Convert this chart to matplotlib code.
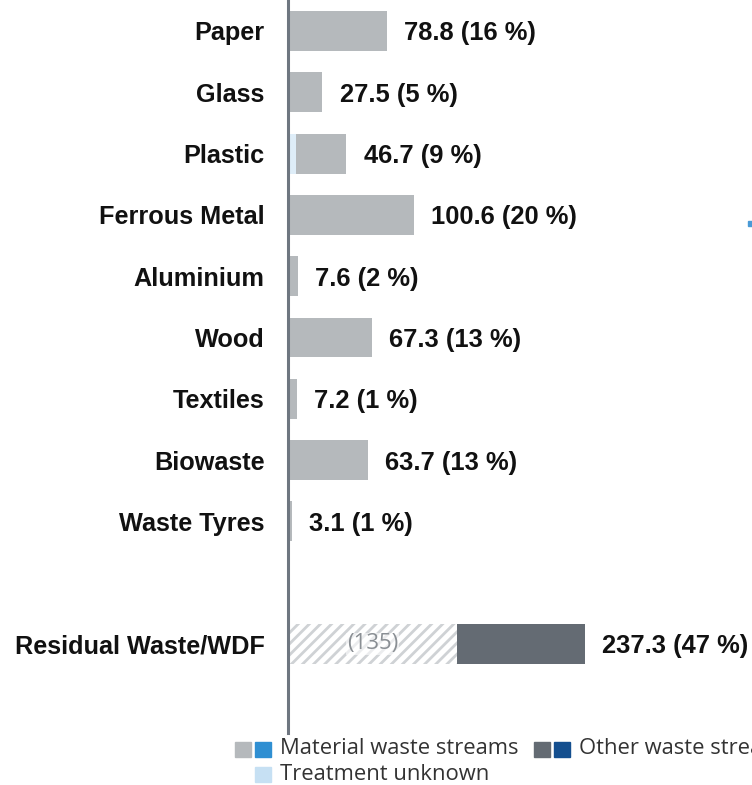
import matplotlib
matplotlib.use("Agg")
import matplotlib.pyplot as plt
from matplotlib.patches import Rectangle
import numpy as np

# Waste streams (kt) and their share of the total
categories = ["Paper", "Glass", "Plastic", "Ferrous Metal", "Aluminium",
              "Wood", "Textiles", "Biowaste", "Waste Tyres", "Residual Waste/WDF"]
positions = [0, 1, 2, 3, 4, 5, 6, 7, 8, 10]
treatment_unknown = [0, 0, 6.5, 0, 0, 0, 0, 0, 0, 0]
material_streams = [78.8, 27.5, 40.2, 100.6, 7.6, 67.3, 7.2, 63.7, 3.1, 0]
residual_hatched = [0, 0, 0, 0, 0, 0, 0, 0, 0, 135]
other_streams = [0, 0, 0, 0, 0, 0, 0, 0, 0, 102.3]
totals = [78.8, 27.5, 46.7, 100.6, 7.6, 67.3, 7.2, 63.7, 3.1, 237.3]
shares = [16, 5, 9, 20, 2, 13, 1, 13, 1, 47]

GRAY = "#b5b9bc"
DARK = "#646b73"
LIGHT_BLUE = "#deedf8"
LEGEND_LIGHT_BLUE = "#c6e0f3"
BLUE = "#2f8fd2"
DARK_BLUE = "#144f8f"
AXIS = "#6e7680"

W, H = 752, 785
fig = plt.figure(figsize=(W / 100, H / 100), dpi=100)
ax = fig.add_axes([288 / W, 52 / H, 1 - 288 / W, 733 / H])

pos = np.array(positions, dtype=float)
h = 0.65
unk = np.array(treatment_unknown)
mat = np.array(material_streams)
hat = np.array(residual_hatched)
oth = np.array(other_streams)

ax.barh(pos, unk, height=h, color=LIGHT_BLUE, edgecolor="none")
ax.barh(pos, mat, left=unk, height=h, color=GRAY, edgecolor="none")
plt.rcParams["hatch.linewidth"] = 2.0
ax.barh(pos, hat, left=unk + mat, height=h, color="white",
        edgecolor="#cfd2d5", hatch="///", linewidth=0)
ax.barh(pos, oth, left=unk + mat + hat, height=h, color=DARK, edgecolor="none")

# hatched segment label
for p, v in zip(pos, hat):
    if v > 0:
        ax.text(v / 2, p, f"({v:.0f})", ha="center", va="center",
                fontsize=16, color="#8a8f94", family="Open Sans",
                bbox=dict(facecolor="white", edgecolor="none", pad=0.5, alpha=0.6))

# value labels
for p, t, s in zip(pos, totals, shares):
    ax.annotate(f"{t:.1f} ({s} %)", xy=(t, p), xytext=(12.5, -1.8),
                textcoords="offset points", ha="left", va="center",
                fontsize=18.4, fontweight="bold", color="#111111",
                family="Liberation Sans")

ax.set_xlim(0, (W - 288) / 1.25)
ax.set_ylim((733 - 31) / 61.3, -31 / 61.3)
ax.set_yticks(pos)
ax.set_yticklabels(categories, fontsize=18.2, fontweight="bold",
                   color="#111111", family="Liberation Sans")
ax.tick_params(axis="y", length=0, pad=17)
ax.set_xticks([])
for side in ["top", "right", "bottom"]:
    ax.spines[side].set_visible(False)
ax.spines["left"].set_color(AXIS)
ax.spines["left"].set_linewidth(2.2)
ax.set_facecolor("none")


def fig_rect(x, y, w, hh, color):
    fig.patches.append(Rectangle((x / W, 1 - (y + hh) / H), w / W, hh / H,
                                 transform=fig.transFigure, color=color))


def fig_label(x, y, s):
    fig.text(x / W, 1 - y / H, s, ha="left", va="center", fontsize=15.8,
             color="#333333", family="Open Sans")


# legend
fig_rect(235, 742, 16, 15, GRAY)
fig_rect(255, 742, 16, 15, BLUE)
fig_label(280, 749, "Material waste streams")
fig_rect(534, 742, 16, 15, DARK)
fig_rect(554, 742, 16, 15, DARK_BLUE)
fig_label(579, 749, "Other waste streams")
fig_rect(255, 767, 16, 15, LEGEND_LIGHT_BLUE)
fig_label(280, 774, "Treatment unknown")

# marker at the right edge
fig_rect(748, 221, 4, 5, "#4a9ad6")

fig.savefig("out.png", dpi=100)
